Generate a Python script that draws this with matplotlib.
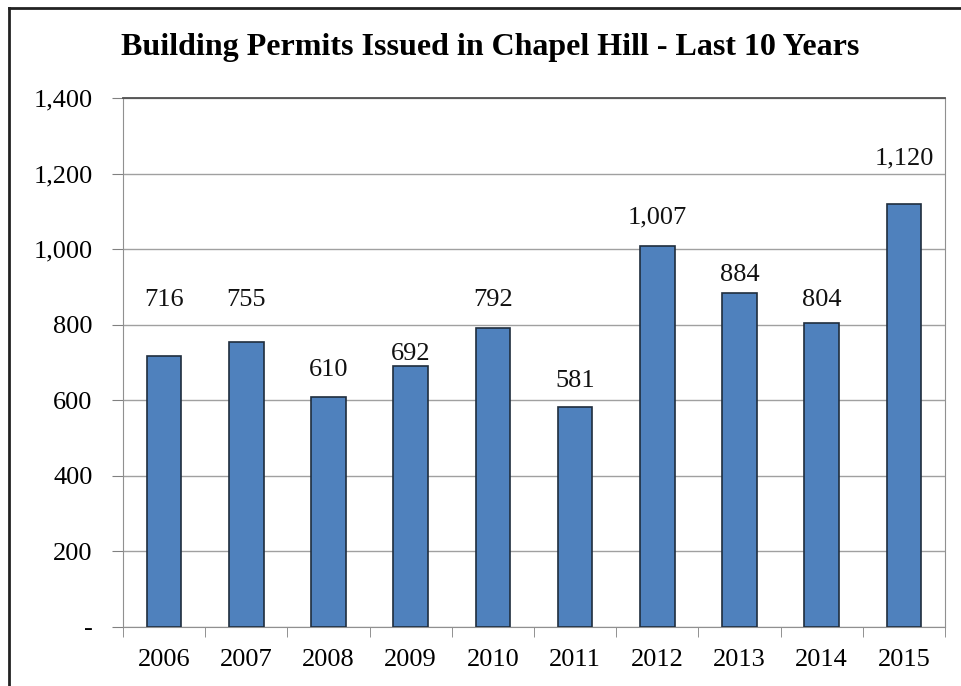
import matplotlib.pyplot as plt
from matplotlib.lines import Line2D
from matplotlib.ticker import FuncFormatter

years = ['2006', '2007', '2008', '2009', '2010', '2011', '2012', '2013', '2014', '2015']
permits = [716, 755, 610, 692, 792, 581, 1007, 884, 804, 1120]

# where the value labels sit (data units, label centre), as placed in the original
label_y = [865, 865, 680, 722, 865, 651, 1085, 931, 865, 1241]

plt.rcParams['font.family'] = ['Liberation Serif', 'DejaVu Serif']

W, H = 961, 686
fig = plt.figure(figsize=(W / 100, H / 100), dpi=100)
ax = fig.add_axes([123 / W, 1 - 627 / H, (945 - 123) / W, (627 - 98) / H])

x = range(len(years))
ax.bar(x, permits, width=0.42, color='#4F81BD', edgecolor='#1F2D3D', linewidth=1.2, zorder=3)

for i, v in enumerate(permits):
    ax.text(i, label_y[i], f'{v:,}', ha='center', va='center', fontsize=19, color='#111111')

ax.set_xlim(-0.5, len(years) - 0.5)
ax.set_ylim(0, 1400)
ax.set_yticks(range(0, 1401, 200))
ax.yaxis.set_major_formatter(FuncFormatter(lambda v, p: '-' if v == 0 else f'{int(v):,}'))
ax.set_xticks(x)
ax.set_xticklabels(years)
ax.set_xticks([i - 0.5 for i in range(len(years) + 1)], minor=True)
ax.tick_params(axis='x', which='major', length=0, labelsize=19, pad=16)
ax.tick_params(axis='x', which='minor', length=7, color='#808080', direction='out')
ax.tick_params(axis='y', length=8, color='#808080', labelsize=19, pad=14)

ax.grid(axis='y', color='#A0A0A0', linewidth=1, zorder=0)
for side in ['left', 'bottom', 'right']:
    ax.spines[side].set_color('#909090')
ax.spines['top'].set_color('#505050')
ax.spines['top'].set_linewidth(1.3)

fig.text(490 / W, 1 - 47 / H, 'Building Permits Issued in Chapel Hill - Last 10 Years',
         ha='center', va='center', fontsize=23, fontweight='bold')

# outer frame (top and left edges visible in the crop)
fig.add_artist(Line2D([9 / W, 9 / W], [0, 1 - 8 / H], color='#222222', linewidth=2, transform=fig.transFigure))
fig.add_artist(Line2D([9 / W, 1], [1 - 8 / H, 1 - 8 / H], color='#222222', linewidth=2, transform=fig.transFigure))

fig.savefig('out.png', dpi=100)
